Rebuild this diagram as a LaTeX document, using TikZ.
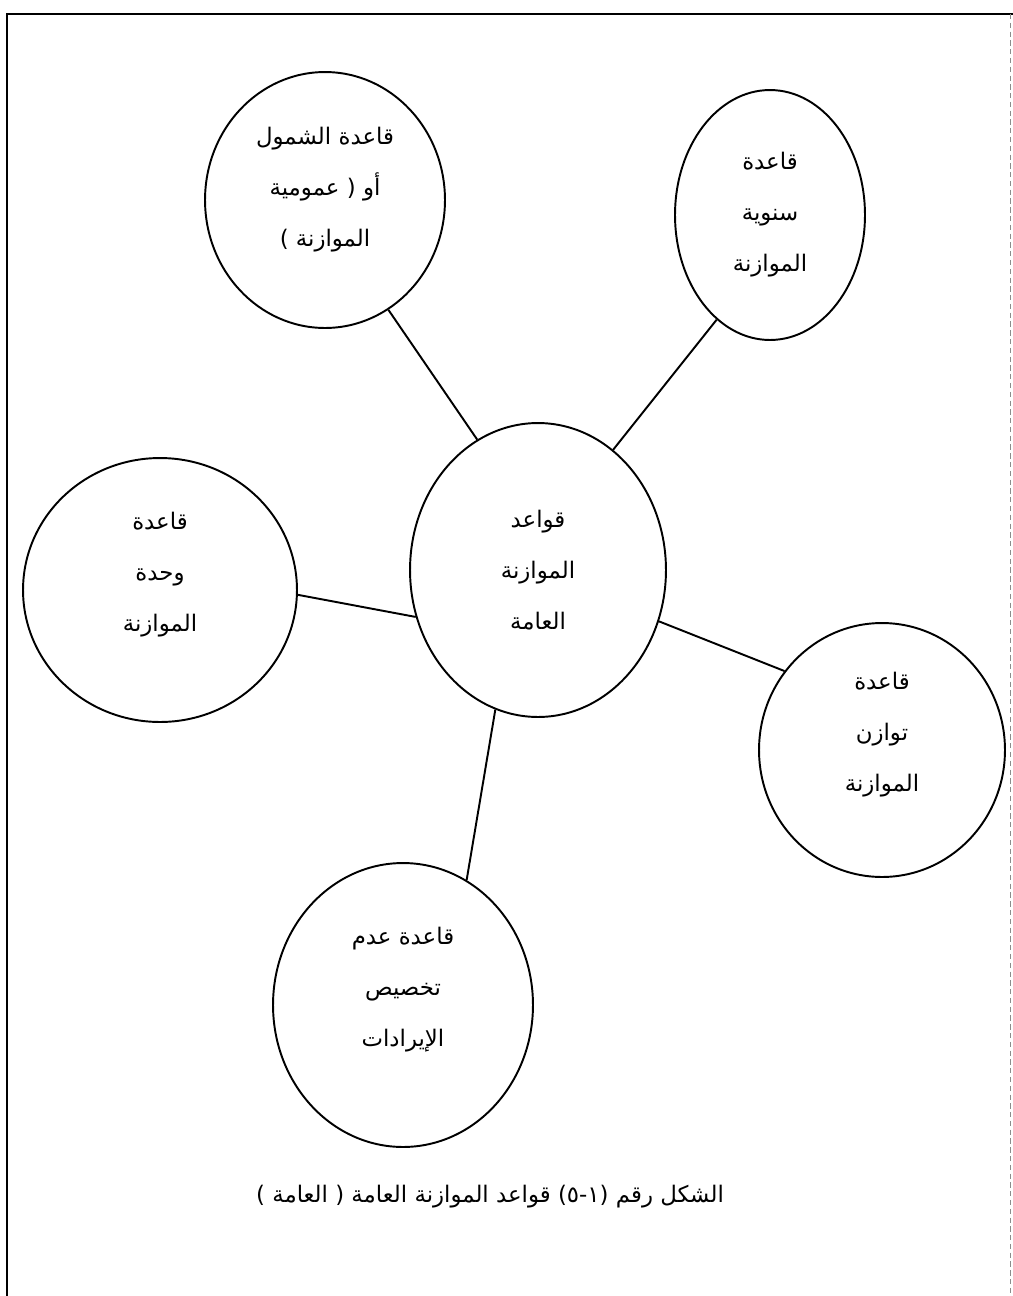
\documentclass[tikz,border=0pt]{standalone}
\usepackage{fontspec}
\newfontfamily\arabicfont[Script=Arabic]{DejaVu Sans}
\TeXXeTstate=1
\usetikzlibrary{shapes.geometric}
\newcommand{\artext}[1]{{\arabicfont\beginR #1\endR}}
\tikzset{
  every node/.style={font=\arabicfont\fontsize{13}{29}\selectfont, text=black},
  rulebubble/.style={
    ellipse,
    draw=black,
    line width=1.1pt,
    align=center,
    inner sep=0pt
  },
  spoke/.style={line width=1.1pt, draw=black},
  pageframe/.style={line width=1.2pt, draw=black}
}

\begin{document}
\begin{tikzpicture}[x=0.02cm,y=-0.02cm]
  \useasboundingbox (0,0) rectangle (1013,1296);

  % page frame of the scan
  \draw[pageframe] (7,1296) -- (7,14) -- (1013,14);
  \draw[black!45, line width=0.4pt, densely dashed] (1010,14) -- (1010,1296);

  % centre and the five rules
  \node[rulebubble, minimum width=5.12cm, minimum height=5.88cm] (main) at (538,570)
    {\artext{قواعد}\\\artext{الموازنة}\\\artext{العامة}};
  \node[rulebubble, minimum width=4.8cm, minimum height=5.12cm] (scope) at (325,200)
    {\artext{قاعدة الشمول}\\\artext{أو ( عمومية}\\\artext{الموازنة )}\\[-14pt]\mbox{}};
  \node[rulebubble, minimum width=3.8cm, minimum height=5.0cm] (annual) at (770,215)
    {\artext{قاعدة}\\\artext{سنوية}\\\artext{الموازنة}};
  \node[rulebubble, minimum width=5.48cm, minimum height=5.28cm] (unity) at (160,590)
    {\artext{قاعدة}\\\artext{وحدة}\\\artext{الموازنة}\\[-8pt]\mbox{}};
  \node[rulebubble, minimum width=4.92cm, minimum height=5.08cm] (balance) at (882,750)
    {\artext{قاعدة}\\\artext{توازن}\\\artext{الموازنة}\\[-8pt]\mbox{}};
  \node[rulebubble, minimum width=5.2cm, minimum height=5.68cm] (nonalloc) at (403,1005)
    {\artext{قاعدة عدم}\\\artext{تخصيص}\\\artext{الإيرادات}\\[-8pt]\mbox{}};

  \draw[spoke] (scope.-60) -- (main.115);
  \draw[spoke] (annual.243) -- (main.58);
  \draw[spoke] (unity.-2) -- (main.201);
  \draw[spoke] (balance.141) -- (main.-23);
  \draw[spoke] (nonalloc.63) -- (main.253);

  \node (caption) at (490,1197)
    {\artext{الشكل رقم (١-٥) قواعد الموازنة العامة ( العامة )}};
\end{tikzpicture}
\end{document}
